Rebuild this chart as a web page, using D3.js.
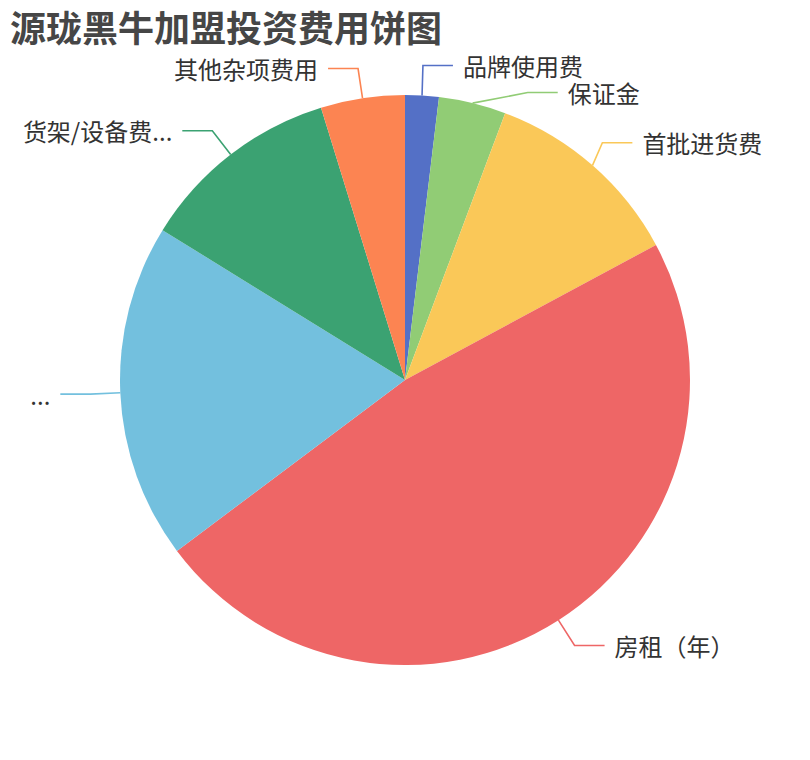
<!DOCTYPE html>
<html>
<head>
<meta charset="utf-8">
<script src="https://cdn.jsdelivr.net/npm/d3@7"></script>
<style>
  html, body { margin: 0; padding: 0; background: #fff; }
  svg { display: block; font-family: "Noto Sans CJK SC", "Noto Sans", sans-serif; }
</style>
</head>
<body>
<svg id="chart" width="810" height="760"></svg>
<script>
// ---- data ----
const chartTitle = "源珑黑牛加盟投资费用饼图";
const categories = ["品牌使用费", "保证金", "首批进货费", "房租（年）", "...", "货架/设备费...", "其他杂项费用"];
const values = [1, 2, 6, 25, 10, 6, 2.5];
const palette = ["#5470c6", "#91cc75", "#fac858", "#ee6666", "#73c0de", "#3ba272", "#fc8452"];

// ---- layout ----
const W = 810, H = 760;
const cx = W / 2, cy = H / 2;
const r = Math.min(W, H) / 2 * 0.75;
const len1 = 30, len2 = 30, textGap = 10, minGap = 27;
const ellipseRA = r + len1 / 2;

const svg = d3.select("#chart");
svg.append("rect").attr("width", W).attr("height", H).attr("fill", "#fff");

const data = categories.map((c, i) => ({ name: c, value: values[i], color: palette[i] }));
const pie = d3.pie().value(d => d.value).sort(null).startAngle(0).endAngle(2 * Math.PI);
const arcs = pie(data);
const arcGen = d3.arc().innerRadius(0).outerRadius(r);

const g = svg.append("g").attr("transform", `translate(${cx},${cy})`);
g.selectAll("path.slice").data(arcs).join("path")
  .attr("class", "slice")
  .attr("d", arcGen)
  .attr("fill", d => d.data.color);

// label layout (ECharts-like)
const items = arcs.map(a => {
  const mid = (a.startAngle + a.endAngle) / 2;
  const s = Math.sin(mid), c = Math.cos(mid);
  return {
    d: a.data,
    side: s >= 0 ? 1 : -1,
    sx: r * s, sy: -r * c,
    bx: (r + len1) * s, by: -(r + len1) * c
  };
});
[1, -1].forEach(side => {
  const list = items.filter(it => it.side === side).sort((a, b) => a.by - b.by);
  let shifted = false;
  for (let i = 1; i < list.length; i++) {
    if (list[i].by - list[i - 1].by < minGap) {
      list[i].by = list[i - 1].by + minGap;
      shifted = true;
    }
  }
  if (shifted) {
    const top = list.filter(it => it.by < 0);
    if (top.length) {
      const t = top[0];
      const rA0 = r + len1;
      const dy0 = Math.abs(t.by), dx0 = Math.abs(t.bx);
      const rB = dx0 < rA0 ? Math.sqrt(dy0 * dy0 / (1 - dx0 * dx0 / (rA0 * rA0))) : rA0;
      top.forEach(it => {
        const dy = Math.abs(it.by);
        it.bx = side * Math.sqrt(Math.max(0, 1 - dy * dy / (rB * rB))) * ellipseRA;
      });
    }
  }
});

const lg = g.append("g");
items.forEach(it => {
  const ex = it.bx + it.side * len2;
  lg.append("polyline")
    .attr("points", `${it.sx},${it.sy} ${it.bx},${it.by} ${ex},${it.by}`)
    .attr("fill", "none")
    .attr("stroke", it.d.color)
    .attr("stroke-width", 1.6);
  lg.append("text")
    .attr("x", ex + it.side * textGap)
    .attr("y", it.by)
    .attr("dominant-baseline", "central")
    .attr("text-anchor", it.side > 0 ? "start" : "end")
    .attr("font-size", 24)
    .attr("fill", "#333")
    .text(it.d.name);
});

// title
svg.append("text")
  .attr("x", 10)
  .attr("y", 26)
  .attr("dominant-baseline", "central")
  .attr("font-size", 36)
  .attr("font-weight", "bold")
  .attr("fill", "#464646")
  .text(chartTitle);
</script>
</body>
</html>
